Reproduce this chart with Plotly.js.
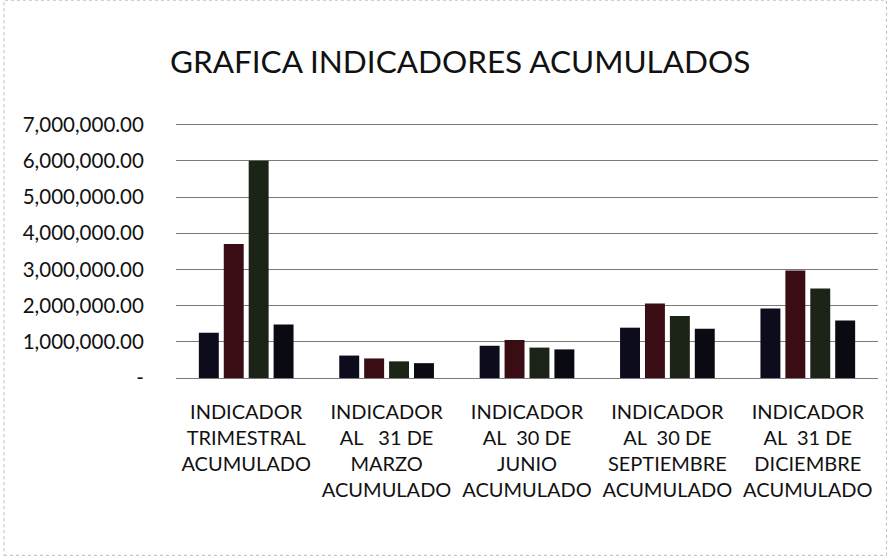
<!DOCTYPE html>
<html>
<head>
<meta charset="utf-8">
<script src="https://cdn.plot.ly/plotly-3.0.1.min.js"></script>
<style>html,body{margin:0;padding:0;background:#fff;}#chart{width:890px;height:556px;}</style>
</head>
<body>
<div id="chart"></div>
<script>
const NB = '\u00a0';
const categories = [
  'INDICADOR<br>TRIMESTRAL<br>ACUMULADO',
  'INDICADOR<br>AL' + NB + NB + NB + '31 DE<br>MARZO<br>ACUMULADO',
  'INDICADOR<br>AL' + NB + NB + '30 DE<br>JUNIO<br>ACUMULADO',
  'INDICADOR<br>AL' + NB + NB + '30 DE<br>SEPTIEMBRE<br>ACUMULADO',
  'INDICADOR<br>AL' + NB + NB + '31 DE<br>DICIEMBRE<br>ACUMULADO'
];
const series1 = [1250000, 620000, 890000, 1390000, 1920000];
const series2 = [3700000, 540000, 1050000, 2060000, 2970000];
const series3 = [6000000, 460000, 840000, 1710000, 2470000];
const series4 = [1480000, 410000, 790000, 1360000, 1590000];
const seriesNames = ['Serie 1', 'Serie 2', 'Serie 3', 'Serie 4'];
const yTickVals = [0, 1000000, 2000000, 3000000, 4000000, 5000000, 6000000, 7000000];
const yTickText = ['-', '1,000,000.00', '2,000,000.00', '3,000,000.00', '4,000,000.00', '5,000,000.00', '6,000,000.00', '7,000,000.00'];
const titleText = 'GRAFICA INDICADORES ACUMULADOS';

const colors = ['#0c0c1c', '#3a0c14', '#1c2418', '#0a0a12'];
const allSeries = [series1, series2, series3, series4];
const traces = allSeries.map((s, i) => ({
  type: 'bar', x: categories, y: s, name: seriesNames[i],
  marker: {color: colors[i]}, hoverinfo: 'skip'
}));

const layout = {
  width: 890, height: 556,
  paper_bgcolor: '#ffffff', plot_bgcolor: '#ffffff',
  font: {family: 'Lato, "Open Sans", sans-serif', color: '#111'},
  title: {text: titleText, font: {size: 31.5, color: '#111', family: 'Lato, sans-serif'},
          x: 0.517, xanchor: 'center', y: 1 - 62/556, yanchor: 'middle'},
  showlegend: false,
  barmode: 'group', bargap: 0.29, bargroupgap: 0.2,
  margin: {l: 176, r: 12, t: 121, b: 178},
  xaxis: {showgrid: false, zeroline: false, showline: false, ticks: '',
          tickangle: 0, tickfont: {size: 20, color: '#111'}, automargin: false,
          ticklabelstandoff: 20},
  yaxis: {range: [0, 7100000], tickvals: yTickVals, ticktext: yTickText,
          showgrid: true, gridcolor: '#7a7a7a', gridwidth: 1, zeroline: true,
          zerolinecolor: '#7a7a7a', zerolinewidth: 1, showline: false,
          ticks: 'outside', ticklen: 27, tickcolor: 'rgba(0,0,0,0)',
          tickfont: {size: 20.5, color: '#111'}, automargin: false},
  shapes: [{type: 'rect', xref: 'paper', yref: 'paper', x0: -0.245, x1: 1.012, y0: -0.69, y1: 1.47,
            line: {color: '#bbbbbb', width: 1, dash: 'dot'}, fillcolor: 'rgba(0,0,0,0)', layer: 'below'}]
};

Plotly.newPlot('chart', traces, layout, {displayModeBar: false, staticPlot: true});
</script>
</body>
</html>
